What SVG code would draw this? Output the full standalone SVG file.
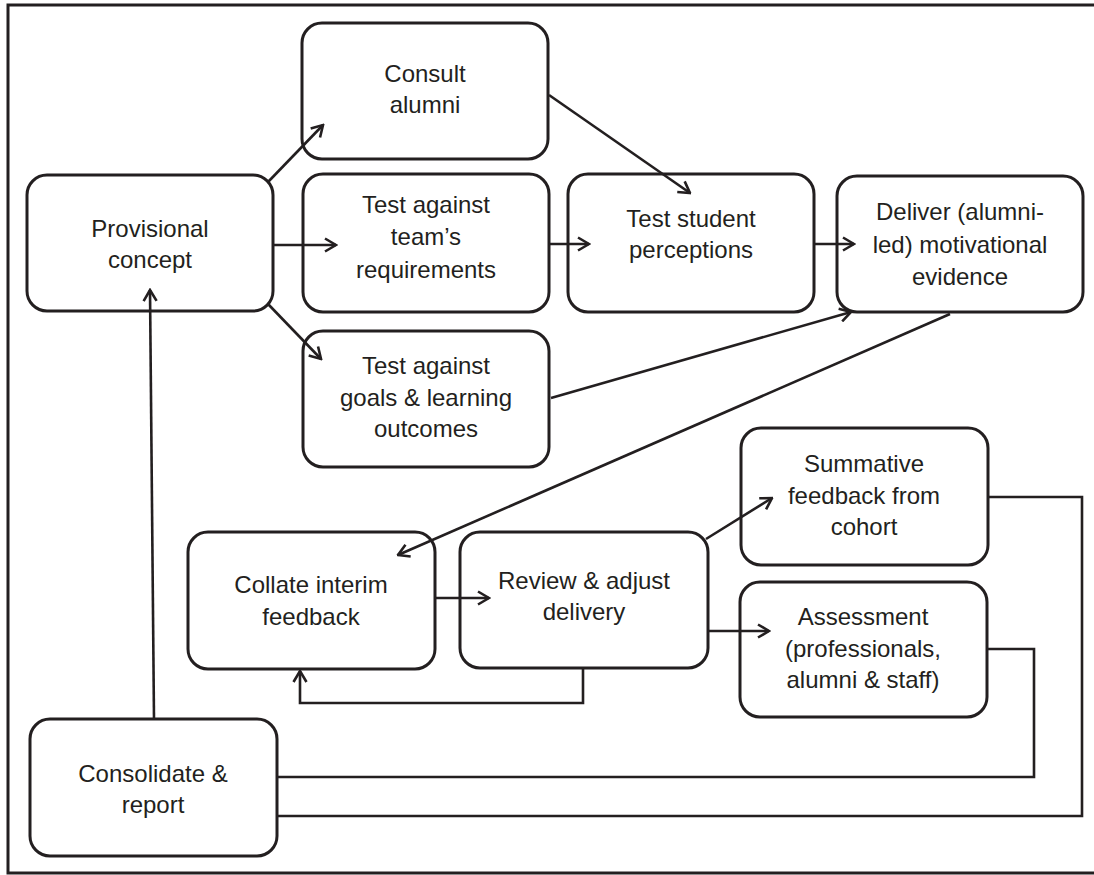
<svg xmlns="http://www.w3.org/2000/svg" width="1094" height="875" viewBox="0 0 1094 875">
<defs>
<style>
.box{fill:#fff;stroke:#231f20;stroke-width:3}
.t{font-family:"Liberation Sans",Arial,sans-serif;font-size:24px;fill:#231f20;text-anchor:middle}
.c{fill:none;stroke:#231f20;stroke-width:2.6}
.a{marker-end:url(#arr)}
</style>
<marker id="arr" viewBox="0 0 14 16" refX="12.5" refY="8" markerWidth="14" markerHeight="16" orient="auto" markerUnits="userSpaceOnUse">
<path d="M1.5,1.5 L12.5,8 L1.5,14.5" fill="none" stroke="#231f20" stroke-width="2.6"/>
</marker>
</defs>
<rect x="0" y="0" width="1094" height="875" fill="#fff"/>
<rect x="8" y="5" width="1095" height="868" fill="none" stroke="#231f20" stroke-width="3"/>

<g id="provisional"><rect class="box" x="27" y="175" width="246" height="136" rx="20"/>
<text class="t" x="150"><tspan x="150" y="237">Provisional</tspan><tspan x="150" y="268">concept</tspan></text></g>
<g id="consult"><rect class="box" x="302" y="23" width="246" height="136" rx="20"/>
<text class="t"><tspan x="425" y="82">Consult</tspan><tspan x="425" y="113">alumni</tspan></text></g>
<g id="team"><rect class="box" x="303" y="174" width="246" height="138" rx="20"/>
<text class="t"><tspan x="426" y="213">Test against</tspan><tspan x="426" y="245">team’s</tspan><tspan x="426" y="278">requirements</tspan></text></g>
<g id="student"><rect class="box" x="568" y="174" width="246" height="138" rx="20"/>
<text class="t"><tspan x="691" y="227">Test student</tspan><tspan x="691" y="258">perceptions</tspan></text></g>
<g id="deliver"><rect class="box" x="837" y="176" width="246" height="136" rx="20"/>
<text class="t"><tspan x="960" y="220">Deliver (alumni-</tspan><tspan x="960" y="253">led) motivational</tspan><tspan x="960" y="285">evidence</tspan></text></g>
<g id="goals"><rect class="box" x="303" y="331" width="246" height="136" rx="20"/>
<text class="t"><tspan x="426" y="374">Test against</tspan><tspan x="426" y="406">goals &amp; learning</tspan><tspan x="426" y="437">outcomes</tspan></text></g>
<g id="collate"><rect class="box" x="188" y="532" width="247" height="137" rx="20"/>
<text class="t"><tspan x="311" y="593">Collate interim</tspan><tspan x="311" y="625">feedback</tspan></text></g>
<g id="review"><rect class="box" x="460" y="532" width="248" height="136" rx="20"/>
<text class="t"><tspan x="584" y="589">Review &amp; adjust</tspan><tspan x="584" y="620">delivery</tspan></text></g>
<g id="summative"><rect class="box" x="741" y="428" width="247" height="137" rx="20"/>
<text class="t"><tspan x="864" y="472">Summative</tspan><tspan x="864" y="504">feedback from</tspan><tspan x="864" y="535">cohort</tspan></text></g>
<g id="assessment"><rect class="box" x="740" y="582" width="247" height="135" rx="20"/>
<text class="t"><tspan x="863" y="625">Assessment</tspan><tspan x="863" y="657">(professionals,</tspan><tspan x="863" y="688">alumni &amp; staff)</tspan></text></g>
<g id="consolidate"><rect class="box" x="30" y="719" width="247" height="137" rx="20"/>
<text class="t"><tspan x="153" y="782">Consolidate &amp;</tspan><tspan x="153" y="813">report</tspan></text></g>

<g id="connectors">
<path class="c a" d="M268,182 L323,125"/>
<path class="c a" d="M273,245 L336,245"/>
<path class="c a" d="M268,304 L321,359"/>
<path class="c a" d="M549,95 L690,193"/>
<path class="c a" d="M549,244 L589,244"/>
<path class="c a" d="M814,244 L854,244"/>
<path class="c a" d="M551,398 L851,312"/>
<path class="c a" d="M950,314 L398,555"/>
<path class="c a" d="M435,598 L489,598"/>
<path class="c a" d="M583,668 V703 H300 V671"/>
<path class="c a" d="M706,539 L772,498"/>
<path class="c a" d="M708,631 L769,631"/>
<path class="c" d="M988,497 H1082 V816 H277"/>
<path class="c" d="M987,649 H1034 V777 H277"/>
<path class="c a" d="M154,719 L150,290"/>
</g>
</svg>
